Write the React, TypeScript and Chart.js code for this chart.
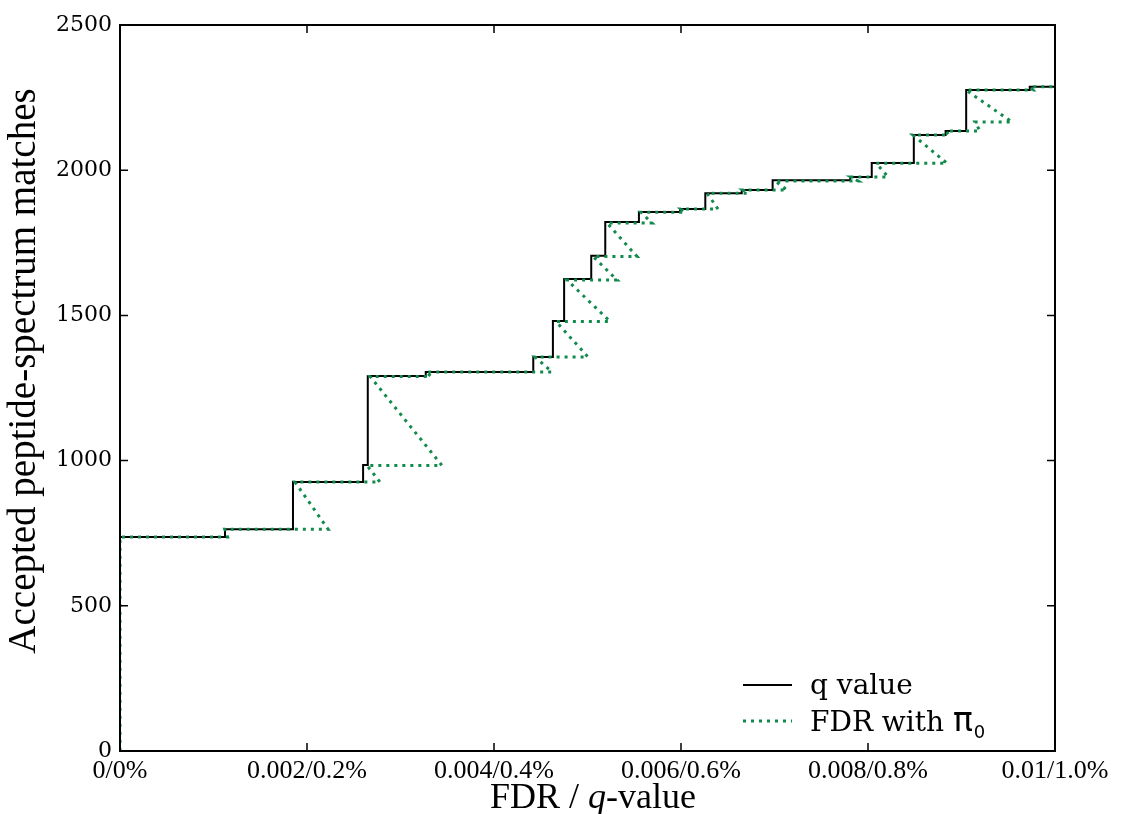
import React, { useEffect, useRef } from "react";
import { Chart, registerables } from "chart.js";
Chart.register(...registerables);

// q value step function: at FDR threshold qStepFdr[i] the accepted count becomes qStepCount[i]
const qStepFdr = [0, 0.001123, 0.00185, 0.0026, 0.00265, 0.00327, 0.00442, 0.00463, 0.00475, 0.00504, 0.00519, 0.00555, 0.00599, 0.00626, 0.00665, 0.00698, 0.00781, 0.00804, 0.00849, 0.00883, 0.00905, 0.00973];
const qStepCount = [737, 764, 926, 985, 1291, 1305, 1357, 1481, 1625, 1705, 1822, 1856, 1866, 1921, 1932, 1965, 1977, 2025, 2121, 2135, 2276, 2287];

// FDR with pi0 path (in drawing order)
const fdrX = [0, 0, 0.00115, 0.00112, 0.002225, 0.001872, 0.002781, 0.002642, 0.003444, 0.002674, 0.003326, 0.003273, 0.00462, 0.004439, 0.005005, 0.004663, 0.005241, 0.004781, 0.005316, 0.005059, 0.005529, 0.005209, 0.00569, 0.005572, 0.006043, 0.006, 0.006396, 0.006278, 0.006717, 0.006663, 0.007134, 0.007005, 0.007893, 0.007818, 0.008214, 0.008086, 0.008845, 0.008481, 0.008866, 0.008834, 0.009198, 0.009144, 0.00954, 0.009048, 0.009765, 0.009733, 0.01];
const fdrY = [0, 737, 737, 764, 764, 926, 926, 983, 983, 1290, 1290, 1305, 1305, 1357, 1357, 1479, 1479, 1622, 1622, 1703, 1703, 1818, 1818, 1855, 1855, 1866, 1866, 1921, 1921, 1932, 1932, 1963, 1963, 1977, 1977, 2024, 2024, 2121, 2121, 2135, 2135, 2166, 2166, 2276, 2276, 2287, 2287];

const xTickValues = [0, 0.002, 0.004, 0.006, 0.008, 0.01];
const xTickLabels = ["0/0%", "0.002/0.2%", "0.004/0.4%", "0.006/0.6%", "0.008/0.8%", "0.01/1.0%"];
const yTickValues = [0, 500, 1000, 1500, 2000, 2500];
const yTickLabels = ["0", "500", "1000", "1500", "2000", "2500"];

const xMin = 0;
const xMax = 0.01;
const yMin = 0;
const yMax = 2500;

const GREEN = "#118a4c";

function buildQPoints() {
  const pts: { x: number; y: number }[] = [];
  let prev = 0;
  for (let i = 0; i < qStepFdr.length; i++) {
    pts.push({ x: qStepFdr[i], y: prev });
    pts.push({ x: qStepFdr[i], y: qStepCount[i] });
    prev = qStepCount[i];
  }
  pts.push({ x: xMax, y: prev });
  return pts;
}

const framePlugin = {
  id: "framePlugin",
  afterDatasetsDraw(chart: any) {
    const { ctx, chartArea: a, scales } = chart;
    const xs = scales.x;
    const ys = scales.y;
    ctx.save();
    // frame
    ctx.strokeStyle = "#000";
    ctx.lineWidth = 2;
    ctx.strokeRect(a.left, a.top, a.right - a.left, a.bottom - a.top);
    // inward ticks
    ctx.lineWidth = 1.5;
    ctx.beginPath();
    for (const v of yTickValues) {
      const y = ys.getPixelForValue(v);
      ctx.moveTo(a.left, y);
      ctx.lineTo(a.left + 8, y);
      ctx.moveTo(a.right, y);
      ctx.lineTo(a.right - 8, y);
    }
    for (const v of xTickValues) {
      const x = xs.getPixelForValue(v);
      ctx.moveTo(x, a.bottom);
      ctx.lineTo(x, a.bottom - 8);
      ctx.moveTo(x, a.top);
      ctx.lineTo(x, a.top + 8);
    }
    ctx.stroke();

    // legend
    const lx0 = 743, lx1 = 792, tx = 810;
    ctx.strokeStyle = "#000";
    ctx.lineWidth = 2;
    ctx.setLineDash([]);
    ctx.beginPath();
    ctx.moveTo(lx0, 685);
    ctx.lineTo(lx1, 685);
    ctx.stroke();
    ctx.strokeStyle = GREEN;
    ctx.lineWidth = 3;
    ctx.setLineDash([3, 5]);
    ctx.beginPath();
    ctx.moveTo(lx0, 721);
    ctx.lineTo(lx1, 721);
    ctx.stroke();
    ctx.setLineDash([]);
    ctx.fillStyle = "#000";
    ctx.textAlign = "left";
    ctx.textBaseline = "alphabetic";
    ctx.font = "28px 'DejaVu Serif'";
    ctx.fillText("q value", tx, 694);
    const s = "FDR with ";
    ctx.fillText(s, tx, 731);
    const w = ctx.measureText(s).width;
    ctx.font = "33px 'DejaVu Sans'";
    ctx.fillText("π", tx + w, 731);
    const wp = ctx.measureText("π").width;
    ctx.font = "18px 'DejaVu Sans'";
    ctx.fillText("0", tx + w + wp + 1, 738);

    // x axis title
    const parts = [
      { t: "FDR / ", f: "36px 'Liberation Serif'" },
      { t: "q", f: "italic 36px 'Liberation Serif'" },
      { t: "-value", f: "36px 'Liberation Serif'" },
    ];
    let total = 0;
    for (const p of parts) {
      ctx.font = p.f;
      total += ctx.measureText(p.t).width;
    }
    let x = 593 - total / 2;
    for (const p of parts) {
      ctx.font = p.f;
      ctx.fillText(p.t, x, 808);
      x += ctx.measureText(p.t).width;
    }

    // y axis title
    ctx.save();
    ctx.translate(35, 371);
    ctx.rotate(-Math.PI / 2);
    ctx.textAlign = "center";
    ctx.font = "39px 'Liberation Serif'";
    ctx.fillText("Accepted peptide-spectrum matches", 0, 0);
    ctx.restore();

    ctx.restore();
  },
};

export default function App() {
  const ref = useRef<HTMLCanvasElement>(null);
  useEffect(() => {
    const qPoints = buildQPoints();
    const fdrPoints = fdrX.map((x, i) => ({ x, y: fdrY[i] }));
    const chart = new Chart(ref.current as HTMLCanvasElement, {
      type: "line",
      data: {
        datasets: [
          {
            label: "FDR with π0",
            data: fdrPoints,
            borderColor: GREEN,
            borderWidth: 3,
            borderDash: [3, 5],
            borderCapStyle: "butt",
            pointRadius: 0,
            fill: false,
            tension: 0,
            order: 1,
          } as any,
          {
            label: "q value",
            data: qPoints,
            borderColor: "#000",
            borderWidth: 2,
            pointRadius: 0,
            fill: false,
            tension: 0,
            order: 2,
          } as any,
        ],
      },
      options: {
        animation: false,
        responsive: false,
        layout: { padding: { top: 25, right: 69, left: 0, bottom: 0 } },
        plugins: { legend: { display: false }, tooltip: { enabled: false } },
        scales: {
          x: {
            type: "linear",
            min: xMin,
            max: xMax,
            grid: { display: false, drawTicks: false },
            border: { display: false },
            afterBuildTicks: (s: any) => {
              s.ticks = xTickValues.map((v) => ({ value: v }));
            },
            afterFit: (s: any) => {
              s.height = 63;
            },
            ticks: {
              callback: (_v: any, i: number) => xTickLabels[i],
              font: { family: "'Liberation Serif'", size: 26 },
              color: "#000",
              padding: 5,
              autoSkip: false,
              maxRotation: 0,
              minRotation: 0,
            },
          },
          y: {
            type: "linear",
            min: yMin,
            max: yMax,
            grid: { display: false, drawTicks: false },
            border: { display: false },
            afterBuildTicks: (s: any) => {
              s.ticks = yTickValues.map((v) => ({ value: v }));
            },
            afterFit: (s: any) => {
              s.width = 120;
            },
            ticks: {
              callback: (_v: any, i: number) => yTickLabels[i],
              font: { family: "'DejaVu Serif'", size: 22 },
              color: "#000",
              padding: 8,
              autoSkip: false,
            },
          },
        },
      } as any,
      plugins: [framePlugin],
    });
    return () => chart.destroy();
  }, []);
  return (
    <div style={{ position: "absolute", left: 0, top: 0, width: 1124, height: 814, background: "#fff" }}>
      <canvas ref={ref} width={1124} height={814} style={{ display: "block" }} />
    </div>
  );
}
